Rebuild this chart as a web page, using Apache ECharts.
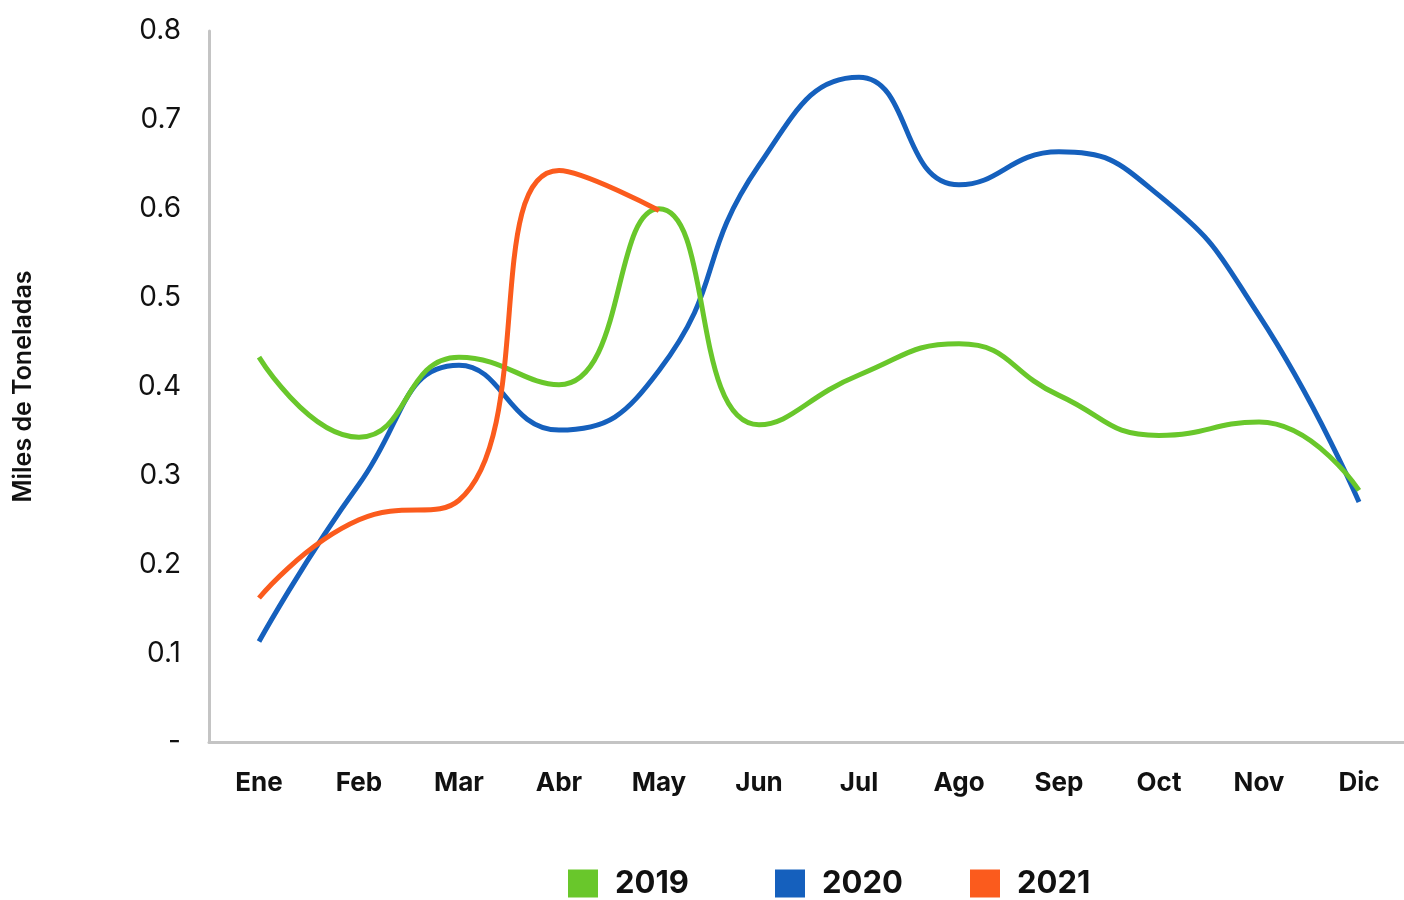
<!DOCTYPE html>
<html>
<head>
<meta charset="utf-8">
<script src="https://cdn.jsdelivr.net/npm/echarts@6/dist/echarts.min.js"></script>
<style>
html,body{margin:0;padding:0;background:#fff;}
#main{width:1404px;height:900px;}
</style>
</head>
<body>
<div id="main"></div>
<script>
const months = ['Ene','Feb','Mar','Abr','May','Jun','Jul','Ago','Sep','Oct','Nov','Dic'];
const s2019 = [0.433,0.343,0.433,0.402,0.600,0.357,0.413,0.448,0.390,0.345,0.360,0.283];
const s2020 = [0.113,0.290,0.424,0.351,0.418,0.649,0.748,0.627,0.664,0.615,0.480,0.270];
const s2021 = [0.162,0.250,0.272,0.643,0.598];
const yTicks = {min:0, max:0.8, interval:0.1};
const seriesNames = ['2019','2020','2021'];
const colors = ['#69c72b','#1560bd','#fb5b1d'];

const chart = echarts.init(document.getElementById('main'));
const font = 'Inter, "Noto Sans", sans-serif';
const legendLefts = [563, 770, 965];
chart.setOption({
  animation:false,
  color:colors,
  grid:{left:209,right:-5,top:31,bottom:158,containLabel:false,outerBoundsMode:'none'},
  legend: seriesNames.map((n,i)=>({
    top:863, left:legendLefts[i],
    itemWidth:30,itemHeight:28,
    icon:'rect',
    textStyle:{fontFamily:font,fontSize:31,fontWeight:'bold',color:'#111',padding:[0,0,0,12]},
    data:[n]
  })),
  xAxis:{
    type:'category',data:months,boundaryGap:true,
    axisLine:{lineStyle:{color:'#c4c4c4',width:3}},
    axisTick:{show:false},
    axisLabel:{fontFamily:font,fontSize:26,fontWeight:'bold',color:'#111',margin:28}
  },
  yAxis:{
    type:'value',min:yTicks.min,max:yTicks.max,interval:yTicks.interval,
    name:'Miles de Toneladas',nameLocation:'middle',nameGap:173,nameRotate:90,
    nameTextStyle:{fontFamily:font,fontSize:25,fontWeight:600,color:'#111'},
    axisLine:{show:true,lineStyle:{color:'#c4c4c4',width:3}},
    axisTick:{show:false},
    splitLine:{show:false},
    axisLabel:{fontFamily:font,fontSize:28,color:'#111',margin:28,
      formatter:v=> v===0?'-':v.toFixed(1)}
  },
  series:[
    {name:seriesNames[0],type:'line',data:s2019,smooth:0.5,symbol:'none',lineStyle:{width:5,color:colors[0]},z:3},
    {name:seriesNames[1],type:'line',data:s2020,smooth:0.5,symbol:'none',lineStyle:{width:5,color:colors[1]},z:2},
    {name:seriesNames[2],type:'line',data:s2021,smooth:0.5,symbol:'none',lineStyle:{width:5,color:colors[2]},z:4}
  ]
});
</script>
</body>
</html>
